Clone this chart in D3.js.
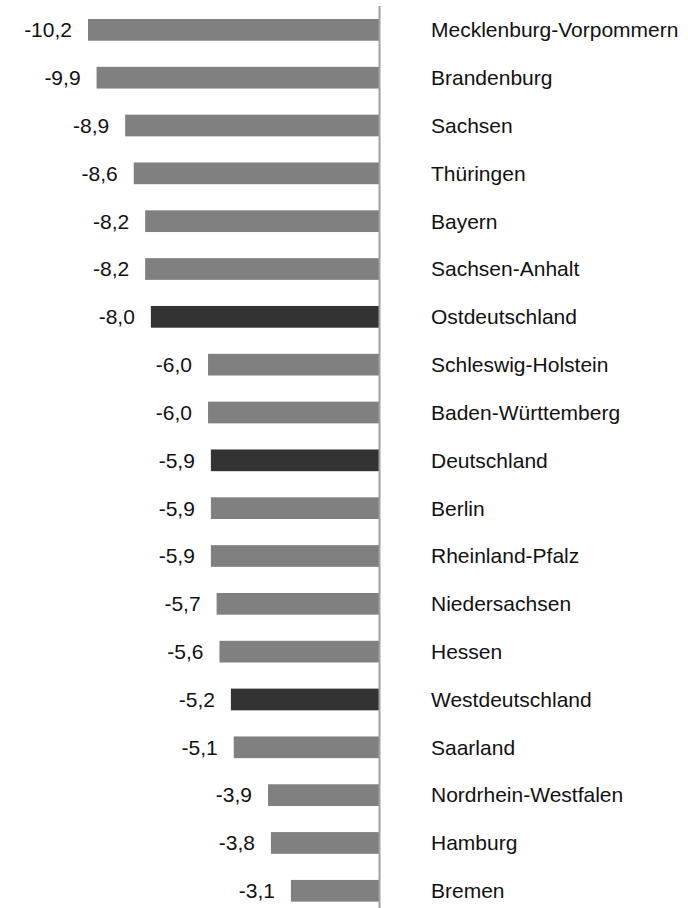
<!DOCTYPE html>
<html>
<head>
<meta charset="utf-8">
<script src="https://cdn.jsdelivr.net/npm/d3@7"></script>
<style>
  body { margin: 0; background: #fff; }
  svg { display: block; }
  text { font-family: "Liberation Sans", Arial, sans-serif; }
</style>
</head>
<body>
<script>
const regions = ['Mecklenburg-Vorpommern', 'Brandenburg', 'Sachsen', 'Thüringen', 'Bayern',
  'Sachsen-Anhalt', 'Ostdeutschland', 'Schleswig-Holstein', 'Baden-Württemberg', 'Deutschland',
  'Berlin', 'Rheinland-Pfalz', 'Niedersachsen', 'Hessen', 'Westdeutschland', 'Saarland',
  'Nordrhein-Westfalen', 'Hamburg', 'Bremen']
const values = [-10.2, -9.9, -8.9, -8.6, -8.2, -8.2, -8.0, -6.0, -6.0, -5.9,
  -5.9, -5.9, -5.7, -5.6, -5.2, -5.1, -3.9, -3.8, -3.1]
const totals = ['Ostdeutschland', 'Deutschland', 'Westdeutschland']

let width = 688
let height = 908

let data = regions.map((r, i) => ({ region: r, value: values[i] }))

let svg = d3.select('body').append('svg').attr('width', width).attr('height', height)

let xScale = d3.scaleLinear()
               .domain([-10.2, 0])
               .range([88, 379.5])

let step = 47.83
let yScale = d3.scaleBand()
               .domain(regions)
               .range([5.94, 5.94 + regions.length * step])
               .paddingInner(0.546)
               .paddingOuter(0.273)

let fmt = v => d3.format('.1f')(v).replace('.', ',').replace('−', '-')

svg.selectAll('rect.bar')
   .data(data)
   .enter()
   .append('rect')
   .attr('class', 'bar')
   .attr('x', d => xScale(d.value))
   .attr('y', d => yScale(d.region))
   .attr('width', d => xScale(0) - xScale(d.value))
   .attr('height', yScale.bandwidth())
   .attr('fill', d => totals.includes(d.region) ? '#333333' : '#808080')

// zero line
svg.append('line')
   .attr('x1', xScale(0)).attr('x2', xScale(0))
   .attr('y1', 6).attr('y2', height)
   .attr('stroke', '#a0a0a0')
   .attr('stroke-width', 2)

svg.selectAll('text.val')
   .data(data)
   .enter()
   .append('text')
   .attr('class', 'val')
   .attr('x', d => xScale(d.value) - 16)
   .attr('y', d => yScale(d.region) + yScale.bandwidth() / 2)
   .attr('dy', '0.35em')
   .attr('text-anchor', 'end')
   .attr('font-size', 21)
   .attr('fill', '#111')
   .text(d => fmt(d.value))

svg.selectAll('text.name')
   .data(data)
   .enter()
   .append('text')
   .attr('class', 'name')
   .attr('x', 431)
   .attr('y', d => yScale(d.region) + yScale.bandwidth() / 2)
   .attr('dy', '0.35em')
   .attr('font-size', 21)
   .attr('fill', '#111')
   .text(d => d.region)
</script>
</body>
</html>
